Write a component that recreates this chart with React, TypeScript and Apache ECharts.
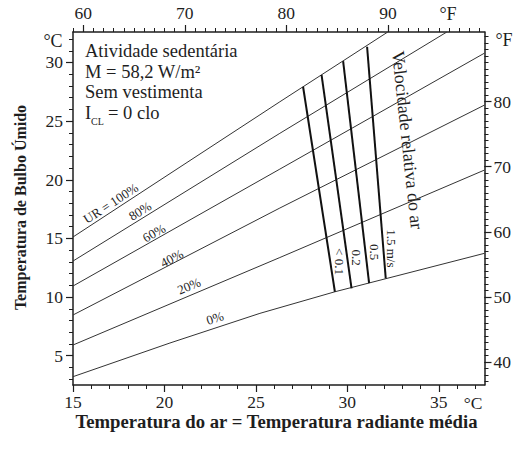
import React, { useEffect, useRef } from "react";
import * as echarts from "echarts";

// Relative humidity curves: [air temperature °C, wet-bulb temperature °C]
const rh100: number[][] = [[15, 15.12], [26.31, 26.65], [32.21, 32.6]];
const rh80: number[][] = [[15, 13.07], [26.31, 23.96], [35.44, 32.6]];
const rh60: number[][] = [[15, 10.94], [26.31, 20.91], [37.5, 30.8]];
const rh40: number[][] = [[15, 8.47], [26.31, 17.59], [37.5, 26.37]];
const rh20: number[][] = [[15, 5.91], [26.31, 13.37], [37.5, 20.83]];
const rh0: number[][] = [[15, 3.21], [20.3, 6.08], [25.22, 8.61], [29.32, 10.45], [37.5, 13.73]];

// Relative air velocity lines
const v01: number[][] = [[27.58, 27.93], [29.32, 10.45]];
const v02: number[][] = [[28.59, 28.95], [30.23, 10.74]];
const v05: number[][] = [[29.77, 30.12], [31.19, 11.19]];
const v15: number[][] = [[31.08, 31.34], [32.1, 11.59]];

// Axis ticks
const xMajorC = [15, 20, 25, 30, 35];
const yMajorC = [5, 10, 15, 20, 25, 30];
const xMajorF = [60, 70, 80, 90];
const yMajorF = [40, 50, 60, 70, 80];
const range = (a: number, b: number) => Array.from({ length: b - a + 1 }, (_, i) => a + i);
const xMinorC = range(16, 37);
const yMinorC = range(3, 32);
const xMinorF = range(59, 99);
const yMinorF = range(37, 90);

const FONT = "Liberation Serif";
const INK = "#1e1e1e";
const LINE = "#333";

function majorAxis(position: string, min: number, max: number, ticks: number[], margin: number) {
  return {
    type: "value",
    position,
    min,
    max,
    axisLine: { show: true, onZero: false, lineStyle: { color: INK, width: 1.5 } },
    axisTick: { show: true, customValues: ticks, length: 7, lineStyle: { color: INK, width: 1.2 } },
    axisLabel: {
      show: true,
      customValues: ticks,
      margin,
      fontSize: 17.5,
      fontFamily: FONT,
      fontStyle: "normal",
      color: INK,
    },
    splitLine: { show: false },
  };
}
function minorAxis(position: string, min: number, max: number, ticks: number[]) {
  return {
    type: "value",
    position,
    min,
    max,
    axisLine: { show: false, onZero: false },
    axisTick: { show: true, customValues: ticks, length: 4, lineStyle: { color: INK, width: 1 } },
    axisLabel: { show: false },
    splitLine: { show: false },
  };
}

function txt(text: string, x: number, y: number, opts: any = {}) {
  const { rotation = 0, fontSize = 18, fontWeight = "normal", align = "center", fill = INK } = opts;
  return {
    type: "text",
    x,
    y,
    rotation,
    silent: true,
    style: { text, fontSize, fontWeight, fontFamily: FONT, fill, align, verticalAlign: "middle" },
  };
}

const deg = (d: number) => (d * Math.PI) / 180;

export default function App() {
  const ref = useRef<HTMLDivElement>(null);
  useEffect(() => {
    if (!ref.current) return;
    const chart = echarts.init(ref.current, null, { renderer: "svg" });
    const rhSeries = [
      ["UR 100%", rh100],
      ["UR 80%", rh80],
      ["UR 60%", rh60],
      ["UR 40%", rh40],
      ["UR 20%", rh20],
      ["UR 0%", rh0],
    ].map(([name, data]) => ({
      name,
      type: "line",
      data,
      xAxisIndex: 0,
      yAxisIndex: 0,
      symbol: "none",
      smooth: false,
      silent: true,
      lineStyle: { color: LINE, width: 1 },
    }));
    const velSeries = [
      ["< 0.1", v01],
      ["0.2", v02],
      ["0.5", v05],
      ["1.5 m/s", v15],
    ].map(([name, data]) => ({
      name,
      type: "line",
      data,
      xAxisIndex: 0,
      yAxisIndex: 0,
      symbol: "none",
      silent: true,
      lineStyle: { color: "#111", width: 2 },
    }));

    chart.setOption({
      animation: false,
      backgroundColor: "#fff",
      textStyle: { fontFamily: FONT },
      grid: { left: 73, right: 34.5, top: 32, bottom: 66, containLabel: false, outerBoundsMode: "none" },
      xAxis: [
        majorAxis("bottom", 15, 37.5, xMajorC, 8),
        majorAxis("top", 59, 99.5, xMajorF, 10),
        minorAxis("bottom", 15, 37.5, xMinorC),
        minorAxis("top", 59, 99.5, xMinorF),
      ],
      yAxis: [
        majorAxis("left", 2.5, 32.6, yMajorC, 10),
        majorAxis("right", 36.5, 90.68, yMajorF, 9),
        minorAxis("left", 2.5, 32.6, yMinorC),
        minorAxis("right", 36.5, 90.68, yMinorF),
      ],
      series: [...rhSeries, ...velSeries],
      graphic: [
        // units
        txt("°C", 53, 41, { fontSize: 18 }),
        txt("°F", 448, 14, { fontSize: 18 }),
        txt("°F", 504, 40, { fontSize: 18 }),
        txt("°C", 473, 402.5, { fontSize: 17.5 }),
        // info block
        txt("Atividade sedentária", 85, 51.3, { align: "left", fontSize: 18.5 }),
        txt("M = 58,2 W/m²", 85, 72.3, { align: "left", fontSize: 18.5 }),
        txt("Sem vestimenta", 85, 92.3, { align: "left", fontSize: 18.5 }),
        txt("I", 85, 113.3, { align: "left", fontSize: 18.5 }),
        txt("CL", 91, 121, { align: "left", fontSize: 10 }),
        txt("= 0 clo", 108, 113.3, { align: "left", fontSize: 18.5 }),
        // axis titles
        txt("Temperatura de Bulbo Úmido", 20, 207.5, { rotation: Math.PI / 2, fontSize: 16, fontWeight: "bold" }),
        txt("Temperatura do ar = Temperatura radiante média", 276.5, 421.5, { fontSize: 18.7, fontWeight: "bold" }),
        // RH labels
        txt("UR = 100%", 110.7, 203.3, { rotation: deg(33), fontSize: 13 }),
        txt("80%", 140, 211, { rotation: deg(31.5), fontSize: 13 }),
        txt("60%", 154, 233, { rotation: deg(29.5), fontSize: 13 }),
        txt("40%", 171.7, 258.3, { rotation: deg(27), fontSize: 13 }),
        txt("20%", 189, 286, { rotation: deg(23), fontSize: 13 }),
        txt("0%", 215, 318, { rotation: deg(17.7), fontSize: 13 }),
        // velocity labels
        txt("< 0.1", 339, 261.5, { rotation: -Math.PI / 2, fontSize: 13 }),
        txt("0.2", 356, 257.5, { rotation: -Math.PI / 2, fontSize: 13 }),
        txt("0.5", 374, 252, { rotation: -Math.PI / 2, fontSize: 13 }),
        txt("1.5 m/s", 391.7, 248.3, { rotation: -Math.PI / 2, fontSize: 13 }),
        txt("Velocidade relativa do ar", 407.5, 140, { rotation: deg(-83.9), fontSize: 18 }),
      ],
    });
    return () => chart.dispose();
  }, []);
  return (
    <div
      ref={ref}
      style={{ position: "fixed", left: 0, top: 0, width: 519, height: 451, background: "#fff" }}
    />
  );
}
